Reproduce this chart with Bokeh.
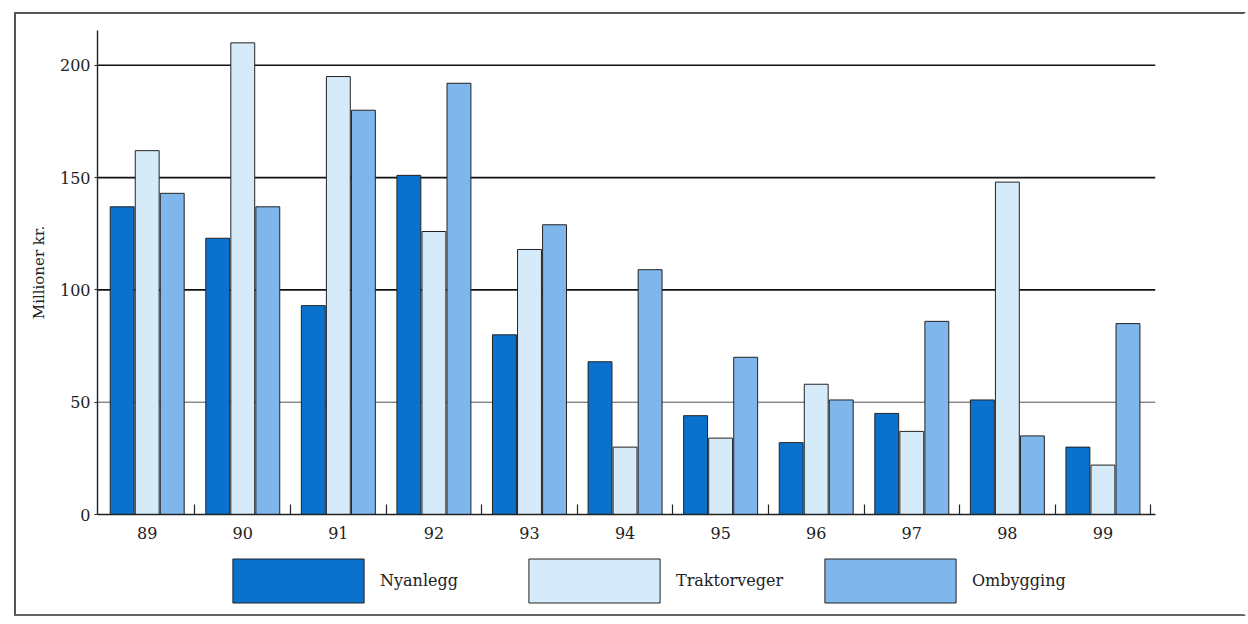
from bokeh.plotting import figure
from bokeh.layouts import column, row
from bokeh.models import (ColumnDataSource, FixedTicker, Span, Legend, LegendItem,
                          Range1d, Spacer)
from bokeh.embed import file_html
from bokeh.resources import INLINE

years = ["89", "90", "91", "92", "93", "94", "95", "96", "97", "98", "99"]
nyanlegg = [137, 123, 93, 151, 80, 68, 44, 32, 45, 51, 30]
traktorveger = [162, 210, 195, 126, 118, 30, 34, 58, 37, 148, 22]
ombygging = [143, 137, 180, 192, 129, 109, 70, 51, 86, 35, 85]
series_names = ["Nyanlegg", "Traktorveger", "Ombygging"]
series_colors = ["#0a72cc", "#d6ebfa", "#7fb7ec"]
y_ticks = [0, 50, 100, 150, 200]
grid_levels = [50, 100, 150, 200]

FONT = "DejaVu Serif"
idx = list(range(len(years)))

p = figure(width=1228, height=530, output_backend="svg", toolbar_location=None,
           x_range=Range1d(-0.52, 10.55), y_range=Range1d(0, 215.5),
           min_border_left=81, min_border_right=89, min_border_top=16,
           min_border_bottom=30)
p.outline_line_color = None
p.background_fill_color = "white"
p.border_fill_color = "white"
p.xgrid.visible = False
p.ygrid.visible = False

for lvl in grid_levels:
    p.add_layout(Span(location=lvl, dimension="width", line_color="#111" if lvl > 50 else "#555",
                      line_width=1.6 if lvl > 50 else 1.0, level="underlay"))

offsets = [-0.262, 0.0, 0.262]
data = [nyanlegg, traktorveger, ombygging]
for name, col, off, vals in zip(series_names, series_colors, offsets, data):
    src = ColumnDataSource(dict(x=[i + off for i in idx], top=vals))
    p.vbar(x="x", top="top", width=0.25, source=src, fill_color=col,
           line_color="#222", line_width=1)

# x axis
p.xaxis.ticker = FixedTicker(ticks=idx, minor_ticks=[i + 0.5 for i in idx])
p.xaxis.major_label_overrides = {i: y for i, y in zip(idx, years)}
p.xaxis.major_tick_line_color = None
p.xaxis.minor_tick_in = 10
p.xaxis.minor_tick_out = 0
p.xaxis.minor_tick_line_color = "#222"
p.xaxis.minor_tick_line_width = 1.2
p.xaxis.axis_line_color = "#222"
p.xaxis.axis_line_width = 1.4
p.xaxis.major_label_standoff = 6
p.xaxis.major_label_text_font = FONT
p.xaxis.major_label_text_font_size = "16px"
p.xaxis.major_label_text_color = "#222"

# y axis
p.yaxis.ticker = FixedTicker(ticks=y_ticks)
p.yaxis.minor_tick_line_color = None
p.yaxis.major_tick_in = 0
p.yaxis.major_tick_out = 3
p.yaxis.major_tick_line_color = "#222"
p.yaxis.axis_line_color = "#222"
p.yaxis.axis_line_width = 1.4
p.yaxis.major_label_standoff = 4
p.yaxis.major_label_text_font = FONT
p.yaxis.major_label_text_font_size = "16px"
p.yaxis.major_label_text_color = "#222"
p.yaxis.axis_label = "Millioner kr."
p.yaxis.axis_label_text_font = FONT
p.yaxis.axis_label_text_font_size = "15px"
p.yaxis.axis_label_text_font_style = "normal"
p.yaxis.axis_label_text_color = "#222"
p.yaxis.axis_label_standoff = 9

# legend strip below the chart (its frame is aligned with the chart frame)
lg = figure(width=1228, height=70, output_backend="svg", toolbar_location=None,
            x_range=Range1d(0, 1), y_range=Range1d(0, 1),
            x_axis_type=None, y_axis_type=None, min_border=0)
lg.outline_line_color = None
lg.xgrid.visible = False
lg.ygrid.visible = False
items = []
for name, col in zip(series_names, series_colors):
    r = lg.vbar(x=[-10], top=[-1], width=0.25, fill_color=col, line_color="#222", line_width=1)
    items.append(LegendItem(label=name, renderers=[r]))
legend = Legend(items=items, orientation="horizontal", location=(119, 6),
                glyph_width=164, glyph_height=55, label_standoff=0, label_width=132,
                label_height=0, spacing=0, padding=0, margin=0, border_line_color=None,
                background_fill_alpha=0, label_text_font=FONT,
                label_text_font_size="16px", label_text_color="#222",
                label_text_baseline="top")
lg.add_layout(legend, "center")

inner = column(p, lg, spacing=0)
inner.styles = {"border-left": "2px solid #555", "border-top": "2px solid #555",
                "border-bottom": "2px solid #666", "border-right": "2px solid white"}
layout = column(Spacer(height=12), row(Spacer(width=14), inner, spacing=0), spacing=0)

open("out.html", "w").write(file_html(layout, INLINE))
